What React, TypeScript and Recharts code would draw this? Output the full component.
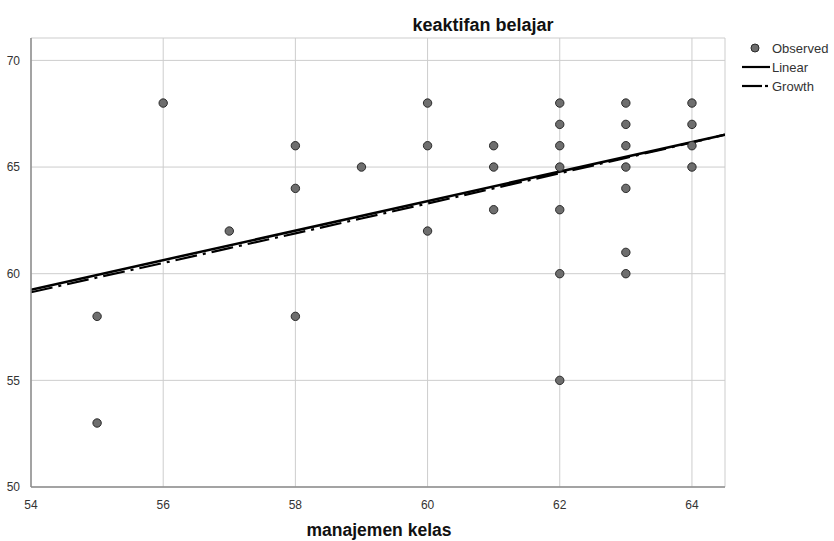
import { ComposedChart, Scatter, Line, XAxis, YAxis, CartesianGrid } from 'recharts';

// observed cases (manajemen kelas, keaktifan belajar)
const manajemenKelas = [55, 55, 56, 57, 58, 58, 58, 59, 60, 60, 60, 61, 61, 61, 62, 62, 62, 62, 62, 62, 62, 63, 63, 63, 63, 63, 63, 63, 64, 64, 64, 64];
const keaktifanBelajar = [58, 53, 68, 62, 66, 64, 58, 65, 68, 66, 62, 66, 65, 63, 68, 67, 66, 65, 63, 60, 55, 68, 67, 66, 65, 64, 61, 60, 68, 67, 66, 65];

// fitted curves
const linearX = [54, 64.5];
const linearY = [59.25, 66.52];
const growthX = [54, 55, 56, 57, 58, 59, 60, 61, 62, 63, 64, 64.5];
const growthY = [59.13, 59.82, 60.5, 61.2, 61.89, 62.59, 63.29, 64.0, 64.71, 65.43, 66.15, 66.52];

const xTicks = [54, 56, 58, 60, 62, 64];
const yTicks = [50, 55, 60, 65, 70];

const legendItems = ['Observed', 'Linear', 'Growth'];

const FONT = '"Liberation Sans", Arial, sans-serif';

const observed = manajemenKelas.map((x, i) => ({ x, y: keaktifanBelajar[i] }));
const linear = linearX.map((x, i) => ({ x, y: linearY[i] }));
const growth = growthX.map((x, i) => ({ x, y: growthY[i] }));

const GROWTH_DASH = '22 6 3 6';

const Dot = (props: any) => (
  <circle cx={props.cx} cy={props.cy} r={4.2} fill="#6e6e6e" stroke="#2a2a2a" strokeWidth={1} />
);

export default function App() {
  return (
    <div style={{ position: 'absolute', left: 0, top: 0, width: 834, height: 541, fontFamily: FONT, background: '#fff' }}>
      <ComposedChart width={834} height={541} margin={{ top: 38, right: 109, bottom: 0, left: 0 }}>
        <CartesianGrid stroke="#cdcdcd" strokeWidth={1} />
        <XAxis
          type="number"
          dataKey="x"
          domain={[54, 64.5]}
          ticks={xTicks}
          allowDataOverflow
          height={54}
          tickLine={false}
          tickMargin={7}
          axisLine={{ stroke: '#8c8c8c', strokeWidth: 1.5 }}
          tick={{ fill: '#333', fontSize: 12, fontFamily: FONT }}
        />
        <YAxis
          type="number"
          dataKey="y"
          domain={[50, 71.05]}
          ticks={yTicks}
          allowDataOverflow
          width={31}
          tickLine={false}
          tickMargin={5}
          axisLine={{ stroke: '#8c8c8c', strokeWidth: 1.5 }}
          tick={{ fill: '#333', fontSize: 12, fontFamily: FONT }}
        />
        <Scatter name="Observed" data={observed} dataKey="y" shape={Dot} isAnimationActive={false} />
        <Line name="Linear" data={linear} dataKey="y" type="linear" stroke="#000" strokeWidth={2.5} dot={false} activeDot={false} isAnimationActive={false} />
        <Line name="Growth" data={growth} dataKey="y" type="linear" stroke="#000" strokeWidth={2.2} strokeDasharray={GROWTH_DASH} dot={false} activeDot={false} isAnimationActive={false} />
      </ComposedChart>

      {/* titles and legend laid over the chart */}
      <svg width={834} height={541} style={{ position: 'absolute', left: 0, top: 0, pointerEvents: 'none' }}>
        <text x={483} y={31} textAnchor="middle" fontSize={18} fontWeight="bold" fill="#111" fontFamily={FONT}>
          keaktifan belajar
        </text>
        <text x={379} y={536} textAnchor="middle" fontSize={17.5} fontWeight="bold" fill="#111" fontFamily={FONT}>
          manajemen kelas
        </text>
        {legendItems.map((name, i) => {
          const cy = 48 + i * 19;
          return (
            <g key={name}>
              {i === 0 && <circle cx={755} cy={cy} r={4} fill="#6e6e6e" stroke="#2a2a2a" strokeWidth={1} />}
              {i === 1 && <line x1={742} x2={770} y1={cy} y2={cy} stroke="#000" strokeWidth={2.2} />}
              {i === 2 && (
                <g>
                  <line x1={742} x2={762} y1={cy} y2={cy} stroke="#000" strokeWidth={2.2} />
                  <line x1={765} x2={768} y1={cy} y2={cy} stroke="#000" strokeWidth={2.2} />
                </g>
              )}
              <text x={772} y={cy + 4.5} fontSize={13} fill="#333" fontFamily={FONT}>
                {name}
              </text>
            </g>
          );
        })}
      </svg>
    </div>
  );
}
